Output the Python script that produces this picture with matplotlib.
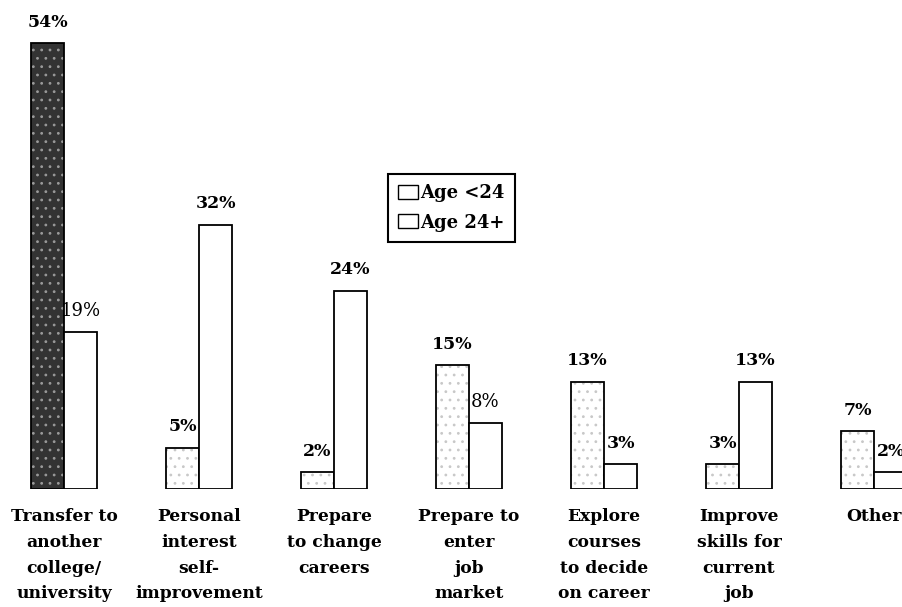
import numpy as np
import matplotlib.pyplot as plt
from matplotlib.patches import Patch

categories = ['Transfer to\nanother\ncollege/\nuniversity', 'Personal\ninterest\nself-\nimprovement',
              'Prepare\nto change\ncareers', 'Prepare to\nenter\njob\nmarket',
              'Explore\ncourses\nto decide\non career', 'Improve\nskills for\ncurrent\njob', 'Other']
under24 = [54, 5, 2, 15, 13, 3, 7]
over24 = [19, 32, 24, 8, 3, 13, 2]
series_names = ['Age <24', 'Age 24+']

plt.rcParams['font.family'] = ['DejaVu Serif']
plt.rcParams['hatch.linewidth'] = 0.8

fig = plt.figure(figsize=(9.02, 6.07), dpi=100)
ax = fig.add_axes([0, 118 / 607, 1, 489 / 607])

x = np.arange(len(categories))
w = 0.245
fill = ['#333333'] + ['white'] * 6
hatch_col = ['#9a9a9a'] + ['#c8c8c8'] * 6
# stippled texture first, black outline on top
ax.bar(x - w / 2, under24, w, color=fill, edgecolor=hatch_col, linewidth=0, hatch='..')
b1 = ax.bar(x - w / 2, under24, w, fill=False, edgecolor='black', linewidth=1.3)
b2 = ax.bar(x + w / 2, over24, w, color='white', edgecolor='black', linewidth=1.3)

for bars, vals in [(b1, under24), (b2, over24)]:
    for r, v in zip(bars, vals):
        light = bars is b2 and v in (19, 8)
        ax.text(r.get_x() + r.get_width() / 2, v + 1.5, f'{v}%', ha='center', va='bottom',
                fontsize=13 if light else 12.5, fontweight='normal' if light else 'bold')

ax.set_xlim(-0.474, 6.207)
ax.set_ylim(0, 489 / 8.26)
ax.set_xticks(x)
ax.set_xticklabels(categories, fontsize=12.3, fontweight='bold', linespacing=1.66)
ax.tick_params(axis='x', length=0, pad=14)
ax.set_yticks([])
for s in ax.spines.values():
    s.set_visible(False)

handles = [Patch(facecolor='white', edgecolor='black', label=n) for n in series_names]
ax.legend(handles=handles, loc='upper left', bbox_to_anchor=(388 / 902, 1 - 174 / 489),
          frameon=True, fancybox=False, edgecolor='black', framealpha=1,
          prop={'size': 13, 'weight': 'bold'},
          handlelength=1.1, handleheight=0.8, handletextpad=0.15, borderpad=0.55,
          labelspacing=0.65, borderaxespad=0)
ax.get_legend().get_frame().set_linewidth(1.5)

fig.savefig('out.png', dpi=100)
